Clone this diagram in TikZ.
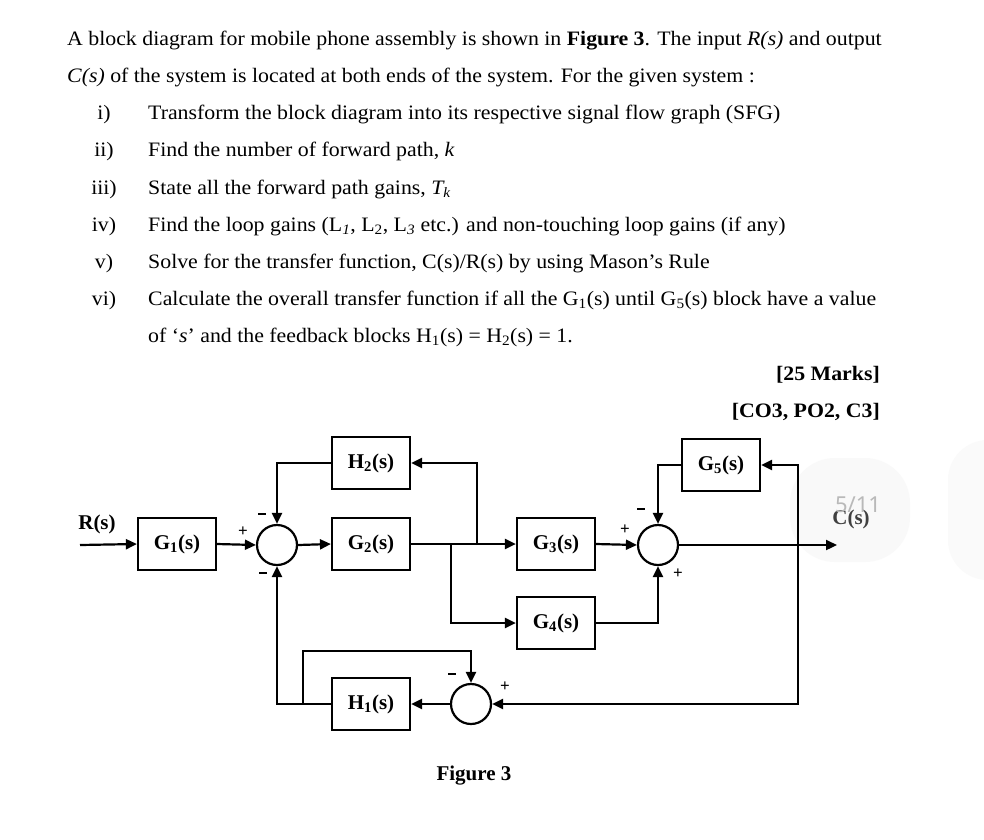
\documentclass[tikz,border=0pt]{standalone}
\usepackage{fontspec}
\setmainfont{Liberation Serif}
\newfontfamily\qfont[FakeStretch=1.065]{Liberation Serif}
\newfontfamily\overlayfont{Noto Sans}
\usetikzlibrary{arrows.meta}
\newcommand{\minussign}{\rule[0.5pt]{8pt}{2pt}}
\begin{document}
\begin{tikzpicture}[x=1pt,y=-1pt,
  blk/.style={draw, line width=2.2pt, minimum width=78pt, minimum height=52pt, inner sep=0pt,
              font=\fontsize{21}{24}\selectfont\bfseries},
  sumj/.style={draw, circle, line width=2.2pt, minimum size=40pt, inner sep=0pt},
  wire/.style={line width=2.2pt},
  arr/.style={wire, -{Triangle[length=11pt,width=10pt]}},
  sgn/.style={font=\fontsize{17}{18}\selectfont\bfseries, inner sep=0pt},
  txt/.style={anchor=base west, inner sep=0pt, font=\qfont\fontsize{20.5}{24}\selectfont},
  num/.style={anchor=base, inner sep=0pt, font=\qfont\fontsize{20.5}{24}\selectfont},
  lbl/.style={inner sep=0pt, font=\fontsize{21}{24}\selectfont\bfseries},
]
\useasboundingbox (0,0) rectangle (984,839);
\fill[white] (0,0) rectangle (984,839);

% faint overlay shapes
\fill[gray!5, rounded corners=45pt] (790,458) rectangle (910,562);
\fill[gray!4, rounded corners=40pt] (948,440) rectangle (1030,580);

% ---- question text ----
\node[txt] (l1) at (67,45) {A block diagram for mobile phone assembly is shown in \textbf{Figure 3}. The input \textit{R(s)} and output};
\node[txt] (l2) at (67,82) {\textit{C(s)} of the system is located at both ends of the system. For the given system :};
\node[num] (n1) at (104,119) {i)};
\node[txt] (t1) at (148,119) {Transform the block diagram into its respective signal flow graph (SFG)};
\node[num] (n2) at (104,156) {ii)};
\node[txt] (t2) at (148,156) {Find the number of forward path, \textit{k}};
\node[num] (n3) at (104,194) {iii)};
\node[txt] (t3) at (148,194) {State all the forward path gains, \textit{T\textsubscript{k}}};
\node[num] (n4) at (104,231) {iv)};
\node[txt] (t4) at (148,231) {Find the loop gains (L\textsubscript{\textit{1}}, L\textsubscript{2}, L\textsubscript{\textit{3}} etc.) and non-touching loop gains (if any)};
\node[num] (n5) at (104,268) {v)};
\node[txt] (t5) at (148,268) {Solve for the transfer function, C(s)/R(s) by using Mason’s Rule};
\node[num] (n6) at (104,305) {vi)};
\node[txt] (t6) at (148,305) {Calculate the overall transfer function if all the G\textsubscript{1}(s) until G\textsubscript{5}(s) block have a value};
\node[txt] (t7) at (148,342) {of ‘\textit{s}’ and the feedback blocks H\textsubscript{1}(s) = H\textsubscript{2}(s) = 1.};
\node[txt, anchor=base east] (m1) at (880,380) {\textbf{[25 Marks]}};
\node[txt, anchor=base east] (m2) at (880,417) {\textbf{[CO3, PO2, C3]}};

% ---- blocks ----
\node[blk] (G1) at (177,544) {G\textsubscript{1}(s)};
\node[sumj] (S1) at (277,545) {};
\node[blk] (G2) at (371,544) {G\textsubscript{2}(s)};
\node[blk] (H2) at (371,463) {H\textsubscript{2}(s)};
\node[blk] (G3) at (556,544) {G\textsubscript{3}(s)};
\node[blk] (G4) at (556,623) {G\textsubscript{4}(s)};
\node[sumj] (S2) at (658,545) {};
\node[blk] (G5) at (721,465) {G\textsubscript{5}(s)};
\node[sumj] (S3) at (471,704) {};
\node[blk] (H1) at (371,704) {H\textsubscript{1}(s)};

% ---- coordinates ----
\coordinate (rin) at (80,545);
\coordinate (b1) at (451,545);
\coordinate (b2) at (477,545);
\coordinate (b3) at (798,545);
\coordinate (cout) at (837,545);
\coordinate (b4) at (303,704);
\coordinate (b4top) at (303,651);

% ---- connectors ----
\draw[arr] (rin) -- (G1.west);
\draw[arr] (G1.east) -- (S1.west);
\draw[arr] (S1.east) -- (G2.west);
\draw[arr] (G2.east) -- (G3.west);
\draw[arr] (b2) |- (H2.east);
\draw[arr] (H2.west) -| (S1.north);
\draw[arr] (b1) |- (G4.west);
\draw[arr] (G3.east) -- (S2.west);
\draw[arr] (G4.east) -| (S2.south);
\draw[arr] (S2.east) -- (cout);
\draw[arr] (b3) |- (G5.east);
\draw[arr] (G5.west) -| (S2.north);
\draw[arr] (b3) |- (S3.east);
\draw[arr] (S3.west) -- (H1.east);
\draw[arr] (H1.west) -| (S1.south);
\draw[arr] (b4) -- (b4top) -| (S3.north);

% ---- signs ----
\node[sgn] (p1) at (243,532) {+};
\node[sgn] (m1a) at (262,514) {\minussign};
\node[sgn] (m1b) at (263,573) {\minussign};
\node[sgn] (p2) at (625,530) {+};
\node[sgn] (m2a) at (641,509) {\minussign};
\node[sgn] (p2b) at (678,574) {+};
\node[sgn] (m3) at (452,674) {\minussign};
\node[sgn] (p3) at (505,687) {+};

% ---- labels ----
\node[lbl] (Rs) at (97,524) {R(s)};
\node[lbl, text=black!75] (Cs) at (851,519) {C(s)};
\node[inner sep=0pt, text=gray!55, font=\overlayfont\fontsize{22}{24}\selectfont] (pg) at (858,505) {5/11};
\node[lbl] (fig) at (474,776) {Figure 3};
\end{tikzpicture}
\end{document}
